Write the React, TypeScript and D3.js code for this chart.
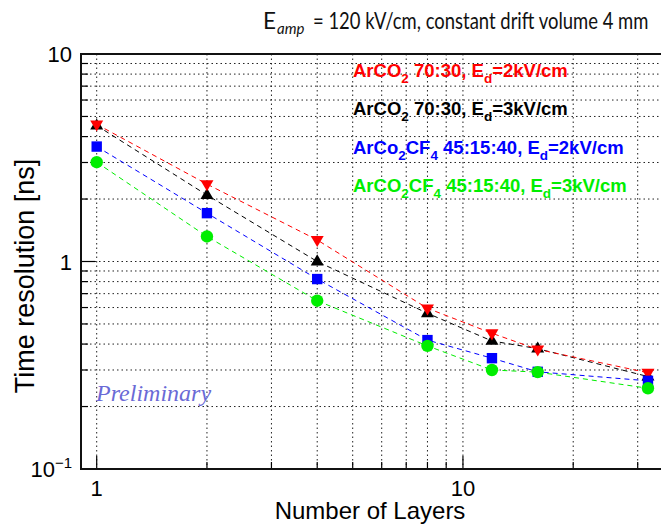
import React from "react";
import * as d3 from "d3";

const layers = [1, 2, 4, 8, 12, 16, 32];
const arco2_2kV = [4.58, 2.36, 1.27, 0.595, 0.451, 0.377, 0.291];
const arco2_3kV = [4.52, 2.09, 1.0, 0.563, 0.414, 0.38, 0.279];
const arcf4_2kV = [3.58, 1.71, 0.823, 0.418, 0.342, 0.294, 0.266];
const arcf4_3kV = [3.01, 1.32, 0.647, 0.392, 0.3, 0.293, 0.245];

const xGrid = [1, 2, 3, 4, 5, 6, 7, 8, 9, 10, 20, 30];
const yGrid = [0.2, 0.3, 0.4, 0.5, 0.6, 0.7, 0.8, 0.9, 1, 2, 3, 4, 5, 6, 7, 8, 9];
const xMajor = [1, 10];
const yMajor = [0.1, 1, 10];

type Seg = { t: string; sub?: boolean };
const legend: { color: string; segs: Seg[] }[] = [
  { color: "#ff0000", segs: [{ t: "ArCO" }, { t: "2", sub: true }, { t: " 70:30, E" }, { t: "d", sub: true }, { t: "=2kV/cm" }] },
  { color: "#000000", segs: [{ t: "ArCO" }, { t: "2", sub: true }, { t: " 70:30, E" }, { t: "d", sub: true }, { t: "=3kV/cm" }] },
  { color: "#0000ff", segs: [{ t: "ArCo" }, { t: "2", sub: true }, { t: "CF" }, { t: "4", sub: true }, { t: " 45:15:40, E" }, { t: "d", sub: true }, { t: "=2kV/cm" }] },
  { color: "#00ee00", segs: [{ t: "ArCO" }, { t: "2", sub: true }, { t: "CF" }, { t: "4", sub: true }, { t: " 45:15:40, E" }, { t: "d", sub: true }, { t: "=3kV/cm" }] },
];

const series = [
  { values: arco2_3kV, color: "#000000", marker: "up" },
  { values: arco2_2kV, color: "#ff0000", marker: "down" },
  { values: arcf4_2kV, color: "#0000ff", marker: "square" },
  { values: arcf4_3kV, color: "#00ee00", marker: "circle" },
];

const L = 81, R = 661, T = 54, B = 469;

export default function App() {
  const x = d3.scaleLog().domain([1, 30]).range([96.7, 637.7]);
  const y = d3.scaleLog().domain([0.1, 10]).range([B, T]);
  const line = d3.line<[number, number]>().x((d) => x(d[0])).y((d) => y(d[1]));

  const marker = (m: string, cx: number, cy: number, color: string, key: string) => {
    if (m === "circle") return <circle key={key} cx={cx} cy={cy} r={6.2} fill={color} />;
    if (m === "square") return <rect key={key} x={cx - 5.2} y={cy - 5.2} width={10.4} height={10.4} fill={color} />;
    const s = 6.5;
    if (m === "up")
      return <path key={key} d={`M${cx},${cy - s * 1.1}L${cx + s},${cy + s * 0.6}L${cx - s},${cy + s * 0.6}Z`} fill={color} />;
    return <path key={key} d={`M${cx},${cy + s * 1.1}L${cx + s},${cy - s * 0.6}L${cx - s},${cy - s * 0.6}Z`} fill={color} />;
  };

  return (
    <svg width={662} height={524} style={{ position: "absolute", left: 0, top: 0, background: "#fff" }}>
      <rect x={0} y={0} width={662} height={524} fill="#fff" />
      {xGrid.map((v) => (
        <line key={"gx" + v} x1={x(v)} x2={x(v)} y1={T} y2={B} stroke="#222" strokeWidth={1} strokeDasharray="1.5,3" />
      ))}
      {yGrid.map((v) => (
        <line key={"gy" + v} x1={L} x2={R} y1={y(v)} y2={y(v)} stroke="#222" strokeWidth={1} strokeDasharray="1.5,3" />
      ))}
      {xGrid.map((v) => (
        <line key={"tx" + v} x1={x(v)} x2={x(v)} y1={B} y2={B - (xMajor.includes(v) ? 13 : 7)} stroke="#000" strokeWidth={1.2} />
      ))}
      {[...yGrid, 0.1, 10].map((v) => (
        <line key={"ty" + v} x1={L} x2={L + (yMajor.includes(v) ? 14 : 7)} y1={y(v)} y2={y(v)} stroke="#000" strokeWidth={1.2} />
      ))}
      <path d={`M${R},${T}L${L},${T}L${L},${B}L${R},${B}`} fill="none" stroke="#111" strokeWidth={2} />
      {series.map((s, i) => (
        <path
          key={"l" + i}
          d={line(layers.map((l, j) => [l, s.values[j]]) as [number, number][]) || ""}
          fill="none"
          stroke={s.color}
          strokeWidth={1}
          strokeDasharray="5,4"
        />
      ))}
      {series.map((s, i) => s.values.map((v, j) => marker(s.marker, x(layers[j]), y(v), s.color, `m${i}-${j}`)))}
      <g fontFamily="Liberation Sans, Arial, sans-serif" fontSize={22} fill="#000">
        <text x={72} y={y(10) + 8} textAnchor="end">10</text>
        <text x={72} y={y(1) + 8} textAnchor="end">1</text>
        <text x={72} y={y(0.1) + 8} textAnchor="end">
          10<tspan fontSize={15} dy={-9}>−1</tspan>
        </text>
        <text x={x(1)} y={496} textAnchor="middle">1</text>
        <text x={x(10)} y={496} textAnchor="middle">10</text>
      </g>
      <text x={370} y={519} textAnchor="middle" fontFamily="Liberation Sans, Arial, sans-serif" fontSize={24}>
        Number of Layers
      </text>
      <text
        transform={`translate(34,276) rotate(-90)`}
        textAnchor="middle"
        fontFamily="Liberation Sans, Arial, sans-serif"
        fontSize={27}
      >
        Time resolution [ns]
      </text>
      <g fontFamily="Lato, Open Sans, sans-serif" fill="#111">
        <text x={263} y={29} fontSize={22.5}>E</text>
        <text x={277} y={34} fontSize={15} fontStyle="italic">amp</text>
        <text transform="translate(313,29) scale(0.82,1)" x={0} y={0} fontSize={22.5}>
          = 120 kV/cm, constant drift volume 4 mm
        </text>
      </g>
      <g fontFamily="Liberation Sans, Arial, sans-serif" fontWeight="bold" fontSize={18.5}>
        {legend.map((e, i) => {
          let cur = 0;
          return (
            <text key={"lg" + i} x={353} y={77 + i * 38.3} fill={e.color}>
              {e.segs.map((s, k) => {
                const target = s.sub ? 6 : 0;
                const dy = target - cur;
                cur = target;
                return (
                  <tspan key={k} dy={dy} fontSize={s.sub ? 13.5 : 18.5}>
                    {s.t}
                  </tspan>
                );
              })}
            </text>
          );
        })}
      </g>
      <text x={96} y={401} fontFamily="Liberation Serif, Times New Roman, serif" fontStyle="italic" fontSize={24} fill="#6a6ad6">
        Preliminary
      </text>
    </svg>
  );
}
